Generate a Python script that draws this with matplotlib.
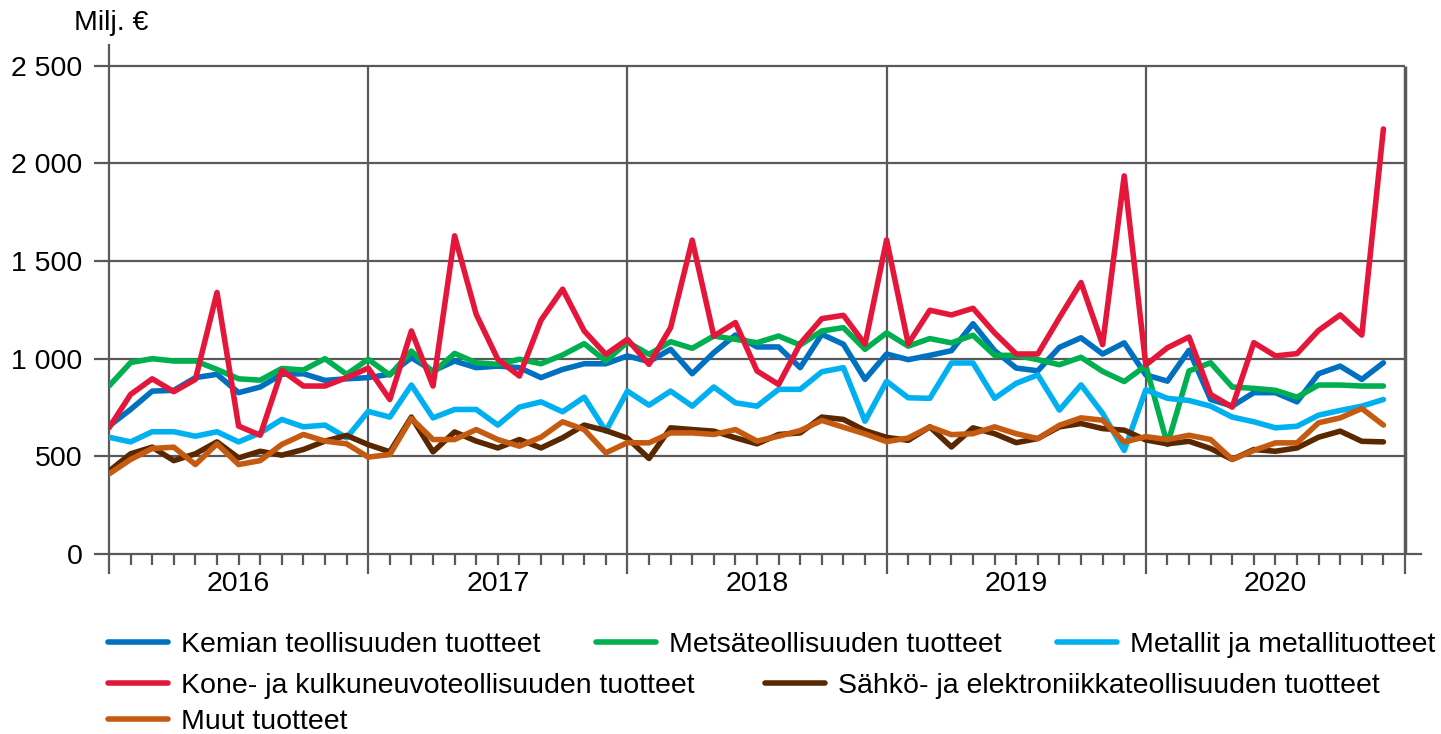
import numpy as np
import matplotlib.pyplot as plt

plt.rcParams['font.family'] = ['Liberation Sans', 'DejaVu Sans']
plt.rcParams['font.size'] = 20

# monthly values 2016-2020, milj. euro
kemia = [655, 740, 834, 838, 903, 920, 826, 855, 920, 923, 889, 897,
         903, 920, 1005, 937, 988, 954, 962, 954, 903, 945, 974, 974,
         1014, 985, 1048, 923, 1031, 1121, 1060, 1060, 954, 1125, 1074, 894,
         1024, 995, 1017, 1041, 1179, 1041, 952, 938, 1058, 1107, 1024, 1081,
         917, 885, 1043, 791, 757, 826, 826, 779, 923, 962, 894, 979]
metsa = [860, 980, 1000, 988, 988, 945, 897, 890, 950, 942, 1000, 920,
         997, 916, 1039, 928, 1027, 979, 971, 997, 974, 1019, 1077, 988,
         1085, 1022, 1087, 1053, 1116, 1099, 1082, 1116, 1070, 1142, 1159, 1048,
         1132, 1064, 1103, 1081, 1120, 1017, 1017, 995, 969, 1007, 935, 883,
         964, 561, 937, 979, 855, 848, 838, 803, 865, 865, 860, 860]
metallit = [598, 574, 626, 626, 603, 626, 574, 620, 689, 651, 660, 595,
            730, 701, 865, 697, 740, 740, 660, 752, 779, 728, 803, 629,
            834, 762, 834, 757, 855, 774, 757, 843, 843, 933, 954, 680,
            884, 800, 797, 978, 978, 797, 874, 917, 737, 866, 720, 530,
            841, 797, 786, 757, 701, 677, 646, 654, 711, 735, 757, 791]
kone = [646, 817, 897, 831, 894, 1339, 655, 608, 940, 860, 860, 903,
        952, 791, 1142, 860, 1629, 1227, 997, 911, 1197, 1356, 1142, 1022,
        1099, 971, 1159, 1607, 1116, 1185, 937, 868, 1077, 1205, 1222, 1074,
        1608, 1076, 1248, 1224, 1258, 1132, 1024, 1024, 1210, 1390, 1072, 1936,
        968, 1056, 1111, 817, 752, 1082, 1014, 1026, 1145, 1224, 1121, 2176]
sahko = [424, 513, 547, 478, 513, 574, 492, 526, 506, 535, 578, 607,
         560, 523, 701, 523, 625, 578, 543, 586, 543, 595, 660, 632,
         593, 489, 646, 637, 629, 595, 564, 612, 620, 701, 689, 632,
         597, 582, 651, 548, 646, 616, 570, 591, 651, 668, 642, 634,
         584, 564, 577, 540, 484, 535, 526, 543, 598, 629, 577, 574]
muut = [410, 484, 540, 547, 458, 564, 458, 478, 561, 612, 578, 564,
        496, 509, 694, 586, 586, 637, 586, 552, 598, 677, 637, 518,
        570, 569, 620, 620, 612, 637, 578, 603, 632, 684, 649, 615,
        575, 594, 651, 611, 616, 651, 616, 591, 659, 697, 685, 573,
        601, 586, 608, 586, 484, 530, 569, 569, 672, 697, 745, 660]

years = ['2016', '2017', '2018', '2019', '2020']
yticks = [0, 500, 1000, 1500, 2000, 2500]
ytick_labels = ['0', '500', '1 000', '1 500', '2 000', '2 500']

names = ['Kemian teollisuuden tuotteet', 'Metsäteollisuuden tuotteet',
         'Metallit ja metallituotteet', 'Kone- ja kulkuneuvoteollisuuden tuotteet',
         'Sähkö- ja elektroniikkateollisuuden tuotteet', 'Muut tuotteet']
colors = ['#0070C0', '#00B050', '#00B0F0', '#E4173B', '#5A2800', '#C55A11']
series = [kemia, metsa, metallit, kone, sahko, muut]

gc = '#595959'
W, H = 1441, 734
fig = plt.figure(figsize=(W / 100, H / 100), dpi=100)
ax = fig.add_axes([109 / W, 1 - 554 / H, (1421 - 109) / W, (554 - 45) / H])

nm = len(kemia)
x = np.arange(nm)

# grid
ax.hlines(yticks[1:], 0, nm, color=gc, lw=1.6, zorder=1)
ax.vlines(range(12, nm, 12), 0, yticks[-1], color=gc, lw=1.6, zorder=1)
ax.vlines(nm, 0, yticks[-1], color=gc, lw=2.5, zorder=1)

lines = []
for s, c, n in zip(series, colors, names):
    l, = ax.plot(x, s, color=c, lw=4, label=n, solid_joinstyle='round',
                 solid_capstyle='round', zorder=3)
    lines.append(l)

ax.set_xlim(0, nm + 0.74)
ax.set_ylim(0, 2606)
for sp in ['top', 'right']:
    ax.spines[sp].set_visible(False)
for sp in ['left', 'bottom']:
    ax.spines[sp].set_color(gc)
    ax.spines[sp].set_linewidth(1.6)

ax.set_yticks(yticks)
ax.set_yticklabels(ytick_labels)
ax.tick_params(axis='y', length=11, width=1.6, color=gc, pad=8, labelsize=20.5)
ax.set_xticks(range(0, nm + 1, 12))
ax.set_xticklabels([])
ax.set_xticks(range(nm), minor=True)
ax.tick_params(axis='x', which='major', length=14.5, width=1.6, color=gc)
ax.tick_params(axis='x', which='minor', length=8, width=1.6, color=gc)

for i, yr in enumerate(years):
    ax.text(12 * i + 6, -30 / 0.19528, yr, ha='center', va='center', fontsize=20.5)

fig.text(74 / W, 1 - 23 / H, 'Milj. €', ha='left', va='center', fontsize=20.5)

# legend entries placed in a flowing layout
pos = [(108, 645), (596, 645), (1057, 645), (108, 686), (765, 686), (108, 722)]
for l, (px, py) in zip(lines, pos):
    fig.legend(handles=[l], loc='center left', bbox_to_anchor=(px / W, 1 - py / H),
               frameon=False, borderpad=0, borderaxespad=0, handlelength=2.1,
               handletextpad=0.45, fontsize=20.5)

fig.savefig('out.png', dpi=100)
